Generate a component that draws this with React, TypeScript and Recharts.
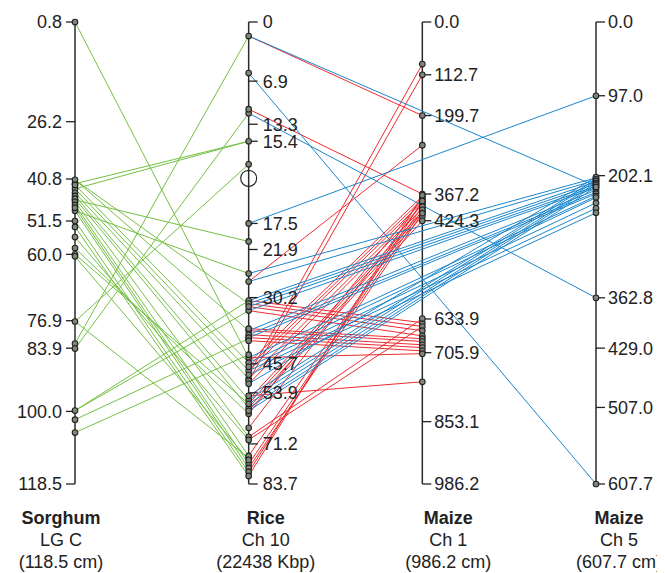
import React from 'react';
import { ComposedChart, XAxis, YAxis, ReferenceLine, Scatter } from 'recharts';

const mapNames = ['Sorghum', 'Rice', 'Maize', 'Maize'];
const mapSubtitles = ['LG C', 'Ch 10', 'Ch 1', 'Ch 5'];
const mapLengths = ['(118.5 cm)', '(22438 Kbp)', '(986.2 cm)', '(607.7 cm)'];
const mapRanges: [number, number][] = [[0.8, 118.5], [0, 22438], [0, 986.2], [0, 607.7]];

const sorghumTicks = [0.8, 26.2, 40.8, 51.5, 60.0, 76.9, 83.9, 100.0, 118.5];
const riceTickLabels = ['0', '6.9', '13.3', '15.4', '17.5', '21.9', '30.2', '45.7', '53.9', '71.2', '83.7'];
const riceTickKbp = [0, 2872, 4965, 5792, 9783, 11048, 13384, 16597, 18008, 20490, 22438];
const maize1Ticks = [0.0, 112.7, 199.7, 367.2, 424.3, 633.9, 705.9, 853.1, 986.2];
const maize5Ticks = [0.0, 97.0, 202.1, 362.8, 429.0, 507.0, 607.7];

// sorghum cM -> rice Kbp
const greenLinks: [number, number][] = [
  [0.8, 16304], [82.7, 681], [84.0, 4429], [42.0, 5792], [43.3, 5792],
  [77.1, 6911], [77.1, 21170], [99.8, 13530], [99.8, 14017], [102.1, 15380],
  [105.4, 16158], [46.1, 10659], [48.9, 12216], [41.0, 14990], [42.3, 16548],
  [43.3, 16937], [44.3, 17327], [45.1, 18349], [45.8, 18738], [46.6, 20149],
  [47.4, 21074], [48.1, 21463], [48.9, 21658], [51.5, 21853], [53.0, 22048],
  [55.6, 20295], [58.4, 19030], [60.0, 18543], [60.5, 21268], [41.0, 13676],
];
// rice Kbp -> maize ch1 cM
const redLinks: [number, number][] = [
  [681, 199.7], [4234, 367.2], [17132, 89.8], [17425, 112.7], [12606, 263],
  [18154, 768], [13530, 642], [13676, 650], [13822, 659], [14017, 670],
  [14893, 676], [14990, 682], [15185, 689], [15331, 695], [15477, 702],
  [16304, 708], [16548, 372], [16743, 379], [16937, 385], [17327, 391],
  [17570, 398], [18349, 404], [18543, 408.5], [18738, 415], [18884, 424.3],
  [19030, 378], [19711, 387], [21074, 394], [21463, 401], [21658, 408],
  [21853, 382], [22048, 370], [20149, 633], [20295, 650],
];
// rice Kbp -> maize ch5 cM
const blueLinks: [number, number][] = [
  [681, 216], [2482, 607.7], [4429, 362.8], [9783, 97.0], [12216, 205],
  [12606, 208], [13530, 210], [13676, 213], [13822, 216], [14017, 218],
  [14990, 221], [15185, 224], [15331, 226], [16304, 229], [16548, 231],
  [16743, 238], [16937, 245], [17132, 251], [17570, 204], [18154, 207],
  [18349, 209], [18543, 212], [18738, 214], [18884, 217],
];
const riceOpenCircleKbp = [7593];

const GREEN = '#74c043';
const RED = '#ee2b2f';
const BLUE = '#1b86cc';
const FONT = '"Liberation Sans", Arial, Helvetica, sans-serif';

const norm = (axis: number, v: number) => {
  const [a, b] = mapRanges[axis];
  return (v - a) / (b - a);
};

const tickData = (axis: number, values: number[], labels: string[]) =>
  values.map((v, i) => ({ x: axis, y: norm(axis, v), label: labels[i], axis }));

const allTicks = [
  ...tickData(0, sorghumTicks, sorghumTicks.map((v) => v.toFixed(1))),
  ...tickData(1, riceTickKbp, riceTickLabels),
  ...tickData(2, maize1Ticks, maize1Ticks.map((v) => v.toFixed(1))),
  ...tickData(3, maize5Ticks, maize5Ticks.map((v) => v.toFixed(1))),
];

const uniq = (arr: number[]) => Array.from(new Set(arr));
const markers = [
  ...uniq(greenLinks.map((l) => l[0])).map((v) => ({ x: 0, y: norm(0, v) })),
  ...uniq([...greenLinks.map((l) => l[1]), ...redLinks.map((l) => l[0]), ...blueLinks.map((l) => l[0])]).map((v) => ({ x: 1, y: norm(1, v) })),
  ...uniq(redLinks.map((l) => l[1])).map((v) => ({ x: 2, y: norm(2, v) })),
  ...uniq(blueLinks.map((l) => l[1])).map((v) => ({ x: 3, y: norm(3, v) })),
];
const openCircles = riceOpenCircleKbp.map((v) => ({ x: 1, y: norm(1, v) }));

const TickShape = (props: any) => {
  const { cx, cy, payload } = props;
  const s = payload.axis === 0 ? -1 : 1;
  const gap = payload.axis === 0 ? 13 : payload.axis === 1 ? 14 : 12;
  return (
    <g>
      <line x1={cx} x2={cx + s * 9} y1={cy} y2={cy} stroke="#222" strokeWidth={1.3} />
      <text
        x={cx + s * gap}
        y={cy}
        dy="0.36em"
        textAnchor={s < 0 ? 'end' : 'start'}
        fontSize={18}
        fontFamily={FONT}
        fill="#222"
      >
        {payload.label}
      </text>
    </g>
  );
};

const MarkerShape = (props: any) => (
  <circle cx={props.cx} cy={props.cy} r={2.8} fill="#7f877a" stroke="#222" strokeWidth={1.1} />
);
const OpenCircleShape = (props: any) => (
  <circle cx={props.cx} cy={props.cy} r={8} fill="none" stroke="#2a2a2a" strokeWidth={1.2} />
);

const TitleTick = (props: any) => {
  const { x, y, payload } = props;
  const i = payload.value as number;
  const offsets = [-14, 17, 26, 23];
  return (
    <g transform={`translate(${x + offsets[i]},${y})`} fontFamily={FONT} fill="#222" fontSize={18}>
      <text textAnchor="middle" y={32} fontWeight="bold">{mapNames[i]}</text>
      <text textAnchor="middle" y={54}>{mapSubtitles[i]}</text>
      <text textAnchor="middle" y={76}>{mapLengths[i]}</text>
    </g>
  );
};

export default function App() {
  return (
    <ComposedChart width={657} height={565} margin={{ top: 14, right: 69, bottom: 0, left: 67 }}>
      <XAxis
        type="number"
        dataKey="x"
        domain={[0, 3]}
        ticks={[0, 1, 2, 3]}
        axisLine={false}
        tickLine={false}
        height={89}
        tick={<TitleTick />}
        interval={0}
      />
      <YAxis type="number" dataKey="y" domain={[0, 1]} reversed hide />
      {[0, 1, 2, 3].map((i) => (
        <ReferenceLine
          key={'ax' + i}
          segment={[{ x: i, y: 0 }, { x: i, y: 1 }]}
          stroke="#2a2a2a"
          strokeWidth={1.5}
          ifOverflow="visible"
        />
      ))}
      {greenLinks.map(([a, b], k) => (
        <ReferenceLine key={'g' + k} segment={[{ x: 0, y: norm(0, a) }, { x: 1, y: norm(1, b) }]} stroke={GREEN} strokeWidth={1} ifOverflow="visible" />
      ))}
      {redLinks.map(([a, b], k) => (
        <ReferenceLine key={'r' + k} segment={[{ x: 1, y: norm(1, a) }, { x: 2, y: norm(2, b) }]} stroke={RED} strokeWidth={1} ifOverflow="visible" />
      ))}
      {blueLinks.map(([a, b], k) => (
        <ReferenceLine key={'b' + k} segment={[{ x: 1, y: norm(1, a) }, { x: 3, y: norm(3, b) }]} stroke={BLUE} strokeWidth={1} ifOverflow="visible" />
      ))}
      <Scatter data={allTicks} shape={<TickShape />} isAnimationActive={false} />
      <Scatter data={markers} shape={<MarkerShape />} isAnimationActive={false} />
      <Scatter data={openCircles} shape={<OpenCircleShape />} isAnimationActive={false} />
    </ComposedChart>
  );
}
